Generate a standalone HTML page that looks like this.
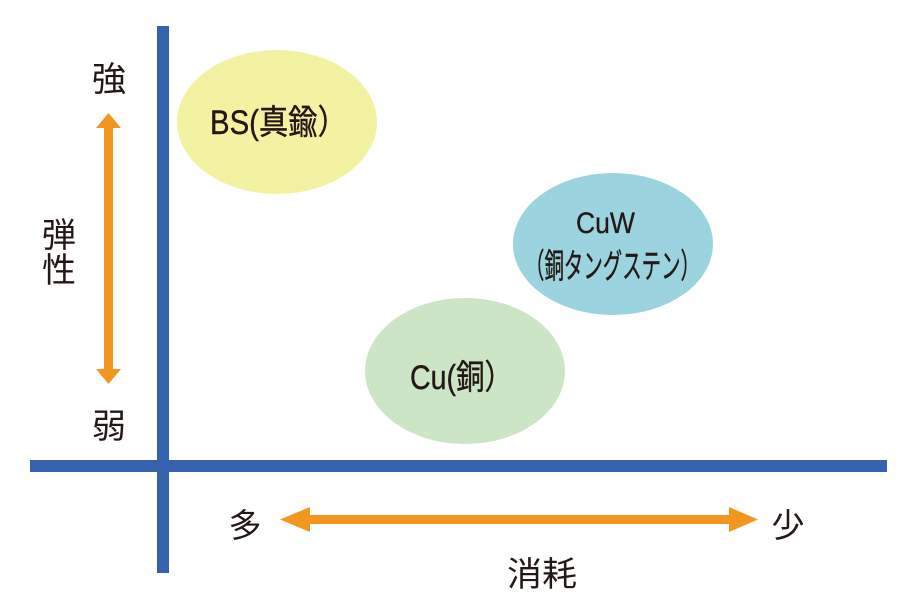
<!DOCTYPE html>
<html><head><meta charset="utf-8"><style>
html,body{margin:0;padding:0;background:#fff;}
svg{display:block;}
text{font-family:"Liberation Sans","Noto Sans CJK JP",sans-serif;fill:#231815;}
</style></head><body>
<svg width="916" height="600" viewBox="0 0 916 600" xmlns="http://www.w3.org/2000/svg">
<rect width="916" height="600" fill="#fff"/>
<!-- ellipses -->
<ellipse cx="277" cy="122" rx="100" ry="72" fill="#f3f2a3"/>
<ellipse cx="613" cy="244" rx="100" ry="71" fill="#9bd4de"/>
<ellipse cx="465" cy="371" rx="100" ry="73" fill="#cbe5c5"/>
<!-- axes -->
<rect x="157" y="26" width="12" height="547" fill="#3561ad"/>
<rect x="30" y="460" width="857" height="12" fill="#3561ad"/>
<!-- vertical arrow -->
<rect x="104" y="126" width="9" height="246" fill="#f3961f"/>
<polygon points="108.5,113 96,128 121,128" fill="#f3961f"/>
<polygon points="108.5,384 96,369 121,369" fill="#f3961f"/>
<!-- horizontal arrow -->
<rect x="308" y="515" width="423" height="9" fill="#f3961f"/>
<polygon points="280,519.5 310,507 310,532" fill="#f3961f"/>
<polygon points="758,519.5 729,507 729,532" fill="#f3961f"/>
<!-- axis labels -->
<text x="109" y="91" font-size="34" text-anchor="middle">強</text>
<text x="59" y="247" font-size="34" text-anchor="middle">弾</text>
<text x="59" y="282" font-size="34" text-anchor="middle">性</text>
<text x="109" y="438" font-size="34" text-anchor="middle">弱</text>
<text x="245" y="537" font-size="33" text-anchor="middle">多</text>
<text x="788" y="537" font-size="33" text-anchor="middle">少</text>
<text x="507" y="586" font-size="34" textLength="70" lengthAdjust="spacingAndGlyphs">消耗</text>
<!-- ellipse labels -->
<text x="210" y="134" font-size="34" textLength="137" lengthAdjust="spacingAndGlyphs" stroke="#231815" stroke-width="0.4">BS(真鍮）</text>
<text x="576" y="233" font-size="30" textLength="59" lengthAdjust="spacingAndGlyphs" stroke="#231815" stroke-width="0.3">CuW</text>
<text x="525" y="278" font-size="34" textLength="175" lengthAdjust="spacingAndGlyphs" stroke="#231815" stroke-width="0.4">（銅タングステン）</text>
<text x="410" y="389" font-size="34" textLength="103" lengthAdjust="spacingAndGlyphs" stroke="#231815" stroke-width="0.4">Cu(銅）</text>
</svg>
</body></html>
